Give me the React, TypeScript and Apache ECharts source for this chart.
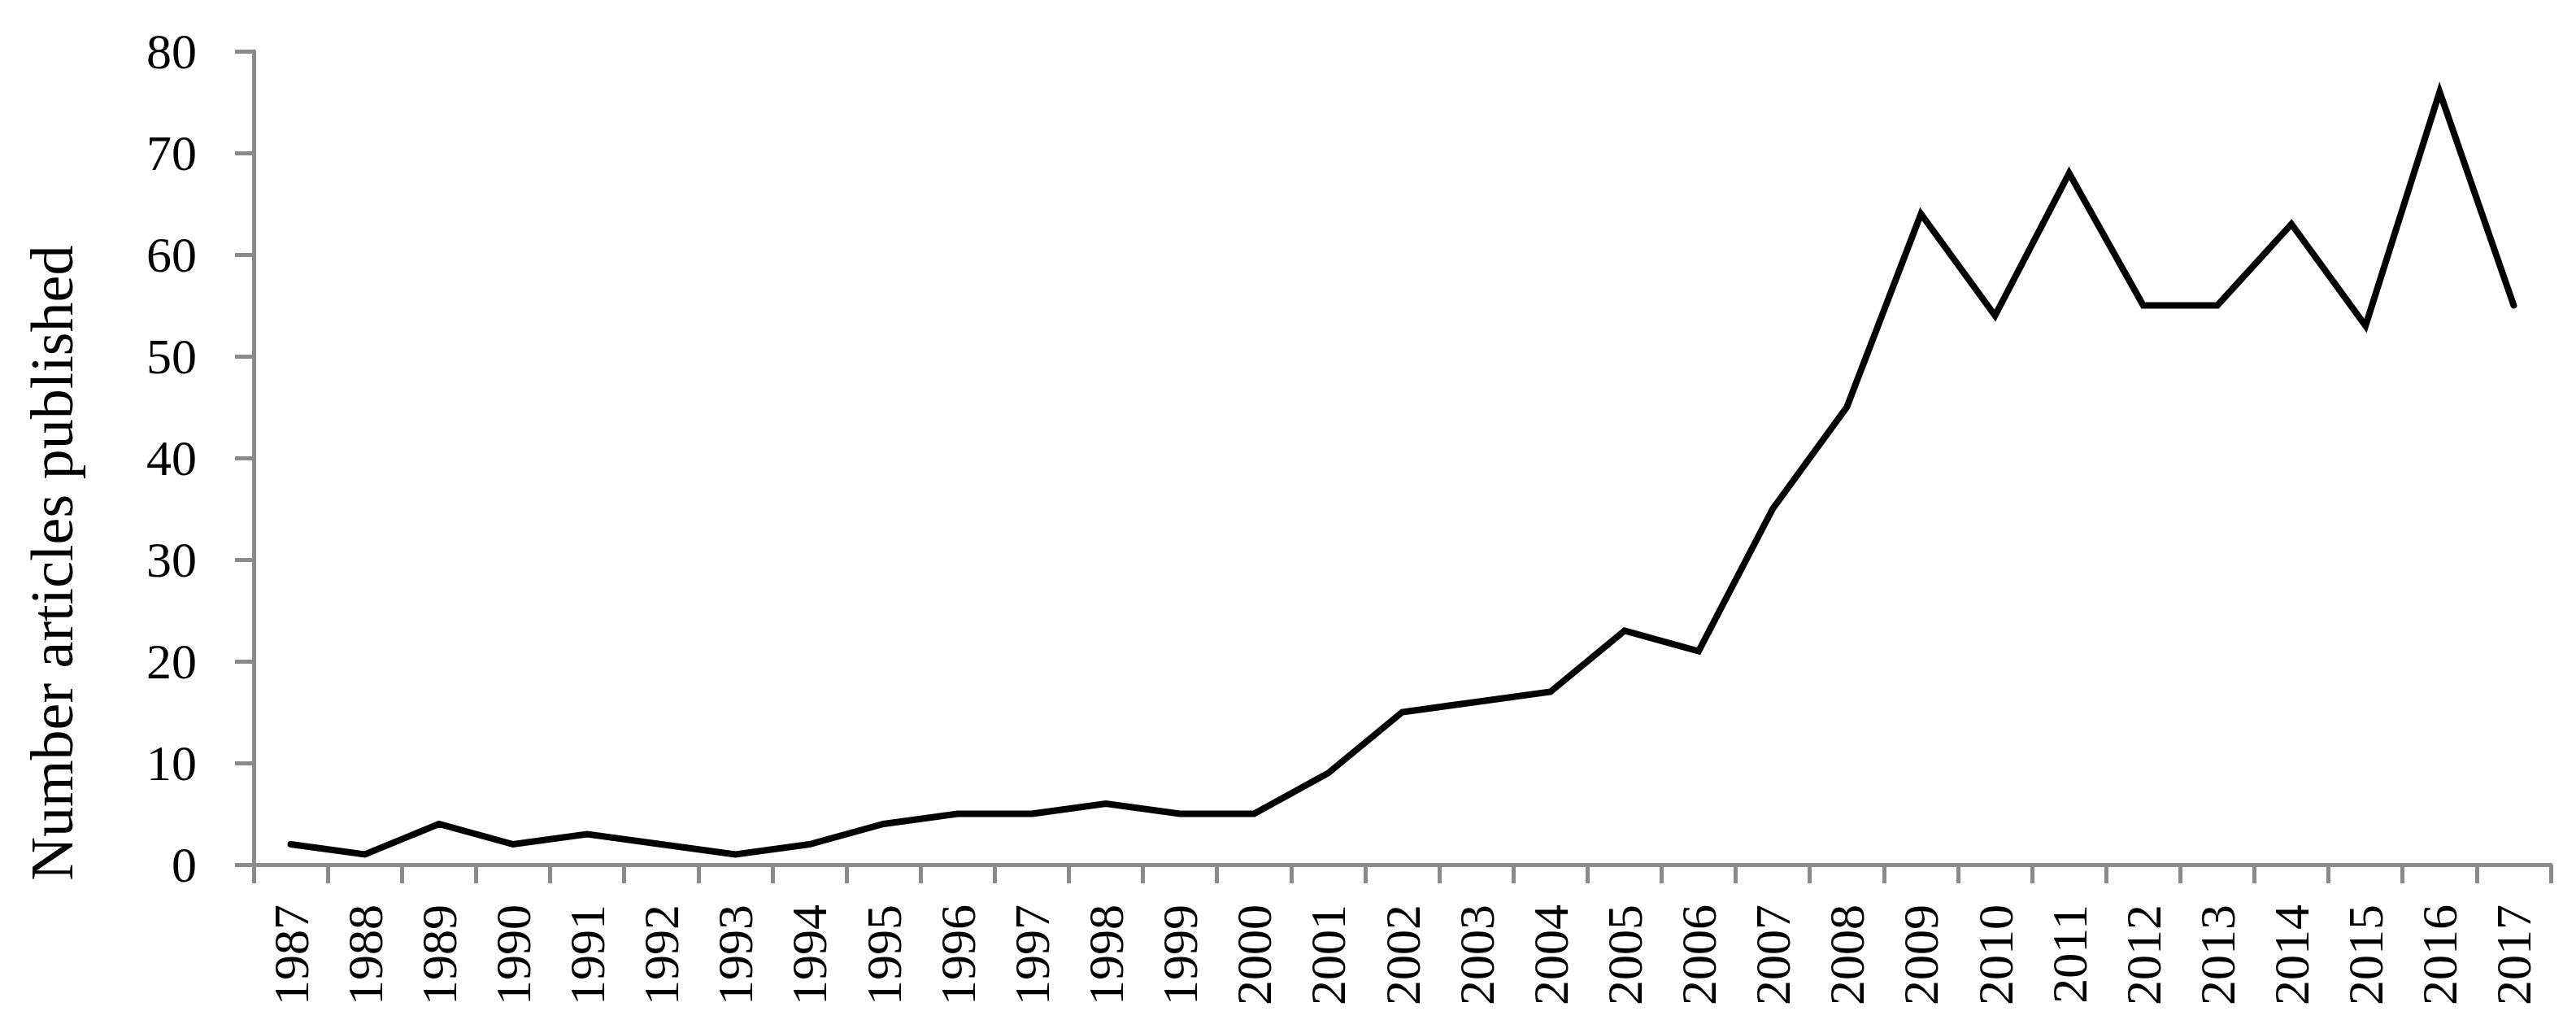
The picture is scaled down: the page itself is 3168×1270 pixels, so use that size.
import React, { useEffect, useRef } from "react";
import * as echarts from "echarts";

const years: string[] = [
  "1987", "1988", "1989", "1990", "1991", "1992", "1993", "1994", "1995", "1996",
  "1997", "1998", "1999", "2000", "2001", "2002", "2003", "2004", "2005", "2006",
  "2007", "2008", "2009", "2010", "2011", "2012", "2013", "2014", "2015", "2016", "2017",
];
const articles: number[] = [
  2, 1, 4, 2, 3, 2, 1, 2, 4, 5,
  5, 6, 5, 5, 9, 15, 16, 17, 23, 21,
  35, 45, 64, 54, 68, 55, 55, 63, 53, 76, 55,
];
const yTitle = "Number articles published";

const FONT = "'Liberation Serif', 'Times New Roman', serif";
const AXIS = "#8a8a8a";

export default function App() {
  const ref = useRef<HTMLDivElement>(null);
  useEffect(() => {
    if (!ref.current) return;
    const chart = echarts.init(ref.current, undefined, { renderer: "svg" });
    chart.setOption({
      animation: false,
      backgroundColor: "#ffffff",
      grid: { left: 312, right: 31, top: 63, bottom: 207, containLabel: false },
      xAxis: {
        type: "category",
        data: years,
        boundaryGap: true,
        axisLine: { show: true, lineStyle: { color: AXIS, width: 5 } },
        axisTick: { show: true, length: 23, lineStyle: { color: AXIS, width: 5 } },
        axisLabel: {
          rotate: 90,
          interval: 0,
          margin: 49,
          color: "#000",
          fontFamily: FONT,
          fontSize: 62,
        },
        splitLine: { show: false },
      },
      yAxis: {
        type: "value",
        min: 0,
        max: 80,
        interval: 10,
        axisLine: { show: true, lineStyle: { color: AXIS, width: 5 } },
        axisTick: { show: true, length: 23, lineStyle: { color: AXIS, width: 5 } },
        axisLabel: {
          margin: 70,
          color: "#000",
          fontFamily: FONT,
          fontSize: 62,
        },
        splitLine: { show: false },
      },
      graphic: [
        {
          type: "text",
          x: 64,
          y: 692,
          rotation: Math.PI / 2,
          style: {
            text: yTitle,
            fill: "#000",
            font: `74px ${FONT}`,
            textAlign: "center",
            textVerticalAlign: "middle",
          },
        },
      ],
      series: [
        {
          type: "line",
          data: articles,
          showSymbol: false,
          lineStyle: { color: "#000", width: 8, cap: "round", join: "miter" },
        },
      ],
    });
    return () => chart.dispose();
  }, []);
  return (
    <div
      ref={ref}
      style={{ position: "fixed", left: 0, top: 0, width: 3168, height: 1270 }}
    />
  );
}
